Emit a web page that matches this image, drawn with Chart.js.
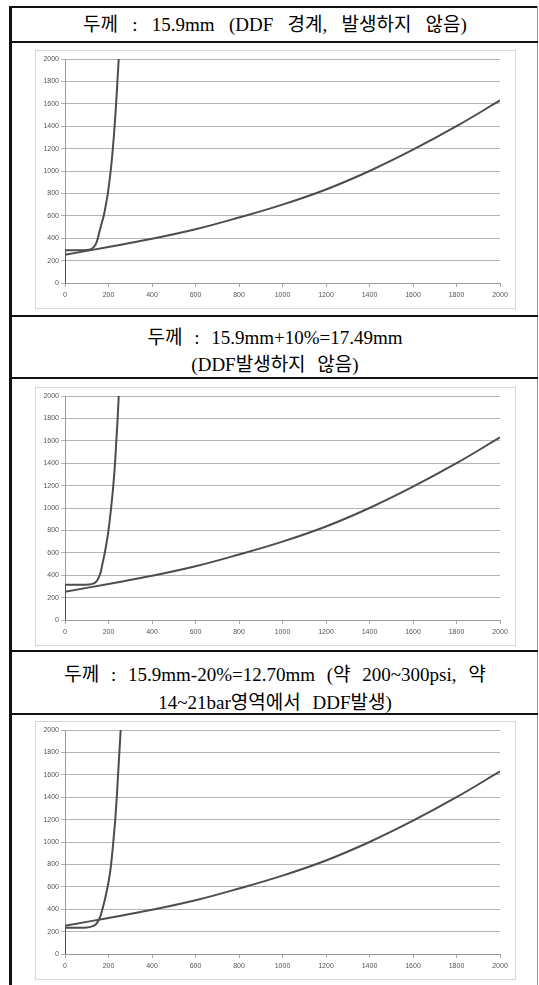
<!DOCTYPE html>
<html><head><meta charset="utf-8">
<script src="https://cdn.jsdelivr.net/npm/chart.js@4.4.1/dist/chart.umd.min.js"></script>
<style>
html,body{margin:0;padding:0;background:#fff;width:539px;height:985px;overflow:hidden;position:relative}
.ln{position:absolute;background:#111}
.hdr{position:absolute;left:12px;width:526px;text-align:center;color:#000;
 font-family:"Liberation Serif","Noto Sans CJK KR",serif;font-size:19px;word-spacing:7px;white-space:nowrap}
.box{position:absolute;left:35px;width:479px;border:1px solid #d6d6d6;background:#fff}
canvas{display:block}
</style></head><body>
<div class="ln" style="left:9px;top:6px;width:3px;height:979px"></div>
<div class="ln" style="left:9px;top:6px;width:529px;height:2px"></div>
<div class="ln" style="left:537px;top:6px;width:1px;height:979px;background:#999"></div>
<div class="ln" style="left:12px;top:41px;width:526px;height:2px"></div>
<div class="ln" style="left:12px;top:315px;width:526px;height:2px"></div>
<div class="ln" style="left:12px;top:377px;width:526px;height:2px"></div>
<div class="ln" style="left:12px;top:650px;width:526px;height:2px"></div>
<div class="ln" style="left:12px;top:713px;width:526px;height:2px"></div>

<div class="hdr" style="top:8px;height:33px;line-height:33px;word-spacing:9.5px">두께 : 15.9mm (DDF 경계, 발생하지 않음)</div>
<div class="hdr" style="top:324px;line-height:27px">두께 : 15.9mm+10%=17.49mm<br>(DDF발생하지 않음)</div>
<div class="hdr" style="top:661px;line-height:28px">두께 : 15.9mm-20%=12.70mm (약 200~300psi, 약<br>14~21bar영역에서 DDF발생)</div>

<div class="box" style="top:50px;height:257px"><canvas id="c1" width="479" height="257"></canvas></div>
<div class="box" style="top:387px;height:257px"><canvas id="c2" width="479" height="257"></canvas></div>
<div class="box" style="top:721px;height:257px"><canvas id="c3" width="479" height="257"></canvas></div>

<script>
// common axis ticks
const xTicks = [0,200,400,600,800,1000,1200,1400,1600,1800,2000];
const yTicks = [0,200,400,600,800,1000,1200,1400,1600,1800,2000];

// series A (same in all three panels)
const aX = [0,200,400,600,800,1000,1200,1400,1600,1800,2000];
const aY = [252,322,395,480,585,700,835,1000,1190,1400,1630];

// panel 1: 15.9mm
const b1Start = 292;
const b1X = [0,60,100,120,132,142,151,164,178,188,197,210,220,228,235,241,247];
const b1Y = [292,292,294,302,320,350,400,500,600,700,800,1000,1200,1400,1600,1800,2000];

// panel 2: 17.49mm
const b2Start = 315;
const b2X = [0,60,110,130,145,155,163,172,183,192,200,212,222,230,236,242,247];
const b2Y = [315,315,317,325,345,380,420,500,600,700,800,1000,1200,1400,1600,1800,2000];

// panel 3: 12.70mm
const b3Start = 235;
const b3X = [0,60,100,125,140,154,164,172,185,196,205,212,222,231,238,244,250,256];
const b3Y = [235,235,237,247,262,300,345,400,500,600,700,800,1000,1200,1400,1600,1800,2000];

const lineColor = '#4d4d4d';
const pts = (xs, ys) => xs.map((x, i) => ({x: x, y: ys[i]}));

function makeChart(id, bX, bY, bStart) {
  new Chart(document.getElementById(id), {
    type: 'line',
    data: {
      datasets: [
        {data: pts(aX, aY), borderColor: lineColor, borderWidth: 2, pointRadius: 0, tension: 0.4, fill: false},
        {data: pts([0, 0], [0, bStart]), borderColor: lineColor, borderWidth: 2, pointRadius: 0, tension: 0, fill: false},
        {data: pts(bX, bY), borderColor: lineColor, borderWidth: 2, pointRadius: 0, tension: 0.4, fill: false}
      ]
    },
    options: {
      responsive: false, animation: false, events: [],
      layout: {padding: {top: 8, right: 15, left: 0, bottom: 0}},
      plugins: {legend: {display: false}, tooltip: {enabled: false}, title: {display: false}},
      scales: {
        x: {
          type: 'linear', min: 0, max: 2000,
          afterBuildTicks: s => { s.ticks = xTicks.map(v => ({value: v})); },
          afterFit: s => { s.height = 25; },
          grid: {drawOnChartArea: false, drawTicks: true, tickLength: 4, color: '#a8a8a8'},
          border: {color: '#999', width: 1},
          ticks: {color: '#555', font: {family: 'Liberation Sans', size: 7}, padding: 4, maxRotation: 0, autoSkip: false,
                  callback: v => String(v)}
        },
        y: {
          type: 'linear', min: 0, max: 2000,
          afterBuildTicks: s => { s.ticks = yTicks.map(v => ({value: v})); },
          afterFit: s => { s.width = 29; },
          grid: {color: '#b4b4b4', tickLength: 4, lineWidth: 1},
          border: {color: '#999', width: 1},
          ticks: {color: '#555', font: {family: 'Liberation Sans', size: 7}, padding: 2, autoSkip: false,
                  callback: v => String(v)}
        }
      }
    }
  });
}
makeChart('c1', b1X, b1Y, b1Start);
makeChart('c2', b2X, b2Y, b2Start);
makeChart('c3', b3X, b3Y, b3Start);
</script>
</body></html>
